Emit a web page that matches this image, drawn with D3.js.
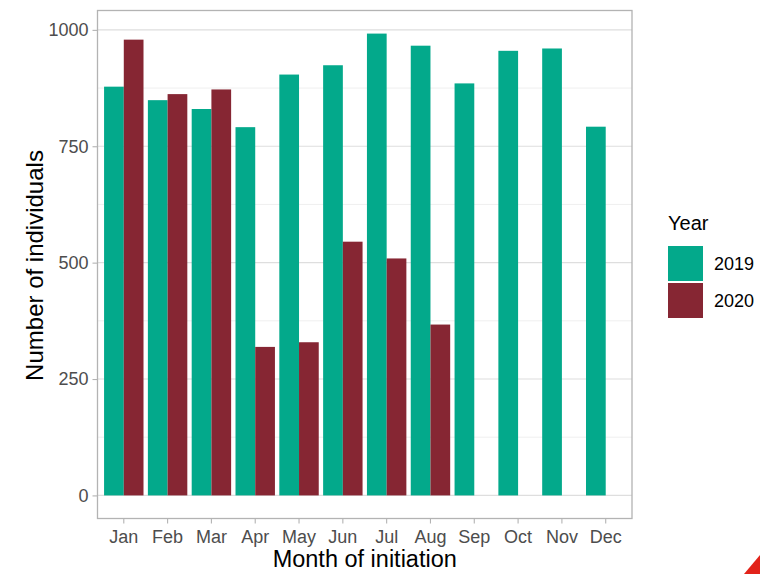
<!DOCTYPE html>
<html>
<head>
<meta charset="utf-8">
<script src="https://cdn.jsdelivr.net/npm/d3@7"></script>
<style>
  html, body { margin: 0; padding: 0; background: #ffffff; }
  svg { display: block; font-family: "Liberation Sans", Arial, sans-serif; }
</style>
</head>
<body>
<svg id="chart" width="760" height="574"></svg>
<script>
// ---- data ----
const months = ["Jan","Feb","Mar","Apr","May","Jun","Jul","Aug","Sep","Oct","Nov","Dec"];
const years = ["2019","2020"];
const values2019 = [878, 849, 830, 791, 904, 924, 992, 966, 885, 955, 960, 792];
const values2020 = [979, 862, 872, 319, 329, 545, 509, 367, null, null, null, null];
const yTicks = [0, 250, 500, 750, 1000];
const yMinorTicks = [125, 375, 625, 875];
const colors = ["#03A98B", "#862633"];

const rows = [];
months.forEach((m, i) => {
  if (values2019[i] != null) rows.push({ month: m, year: "2019", value: values2019[i] });
  if (values2020[i] != null) rows.push({ month: m, year: "2020", value: values2020[i] });
});

const svg = d3.select("#chart");
const panel = { left: 97.5, right: 632, top: 10.5, bottom: 518.5 };

const maxV = d3.max(rows, d => d.value);
const x = d3.scaleBand().domain(months).range([panel.left, panel.right])
  .paddingInner(0.1).paddingOuter(0.15);
const xInner = d3.scaleBand().domain(years).range([0, x.bandwidth()]).padding(0);
const y = d3.scaleLinear().domain([-0.05 * maxV, 1.05 * maxV]).range([panel.bottom, panel.top]);
const color = d3.scaleOrdinal().domain(years).range(colors);

// gridlines
const grid = svg.append("g");
grid.selectAll("line.minor").data(yMinorTicks).join("line")
  .attr("x1", panel.left).attr("x2", panel.right)
  .attr("y1", d => y(d)).attr("y2", d => y(d))
  .attr("stroke", "#EBEBEB").attr("stroke-width", 0.8);
grid.selectAll("line.major").data(yTicks).join("line")
  .attr("x1", panel.left).attr("x2", panel.right)
  .attr("y1", d => y(d)).attr("y2", d => y(d))
  .attr("stroke", "#DEDEDE").attr("stroke-width", 1.1);

// bars
svg.append("g").selectAll("rect").data(rows).join("rect")
  .attr("x", d => x(d.month) + xInner(d.year))
  .attr("width", xInner.bandwidth())
  .attr("y", d => y(d.value))
  .attr("height", d => y(0) - y(d.value))
  .attr("fill", d => color(d.year));

// panel border
svg.append("rect")
  .attr("x", panel.left).attr("y", panel.top)
  .attr("width", panel.right - panel.left).attr("height", panel.bottom - panel.top)
  .attr("fill", "none").attr("stroke", "#B3B3B3").attr("stroke-width", 1.3);

// axes
const xAxis = svg.append("g").attr("transform", `translate(0,${panel.bottom})`)
  .call(d3.axisBottom(x).tickSize(5).tickPadding(7));
const yAxis = svg.append("g").attr("transform", `translate(${panel.left},0)`)
  .call(d3.axisLeft(y).tickValues(yTicks).tickFormat(d3.format("d")).tickSize(5).tickPadding(4));
[xAxis, yAxis].forEach(a => {
  a.select(".domain").remove();
  a.selectAll(".tick line").attr("stroke", "#B3B3B3").attr("stroke-width", 1.1);
  a.selectAll(".tick text").attr("fill", "#4D4D4D").style("font-size", "18px")
    .style("font-family", "'Liberation Sans', Arial, sans-serif");
});

// axis titles
svg.append("text").attr("x", (panel.left + panel.right) / 2).attr("y", 567)
  .attr("text-anchor", "middle").style("font-size", "23.5px").attr("fill", "#000")
  .text("Month of initiation");
svg.append("text").attr("transform", `translate(43,${(panel.top + panel.bottom) / 2 + 1}) rotate(-90)`)
  .attr("text-anchor", "middle").style("font-size", "24px").attr("fill", "#000")
  .text("Number of individuals");

// legend
const legend = svg.append("g").attr("transform", "translate(668,0)");
legend.append("text").attr("x", 0).attr("y", 229.5).style("font-size", "20px").attr("fill", "#000").text("Year");
const keys = legend.selectAll("g.key").data(years).join("g")
  .attr("transform", (d, i) => `translate(0,${246 + i * 37})`);
keys.append("rect").attr("width", 35).attr("height", 35).attr("fill", d => color(d));
keys.append("text").attr("x", 46).attr("y", 17.5).attr("dy", "0.35em")
  .style("font-size", "18px").attr("fill", "#000").text(d => d);

// decorative corner shape
svg.append("polygon").attr("points", "744,574 760,555 760,574").attr("fill", "#E2231A");
</script>
</body>
</html>
